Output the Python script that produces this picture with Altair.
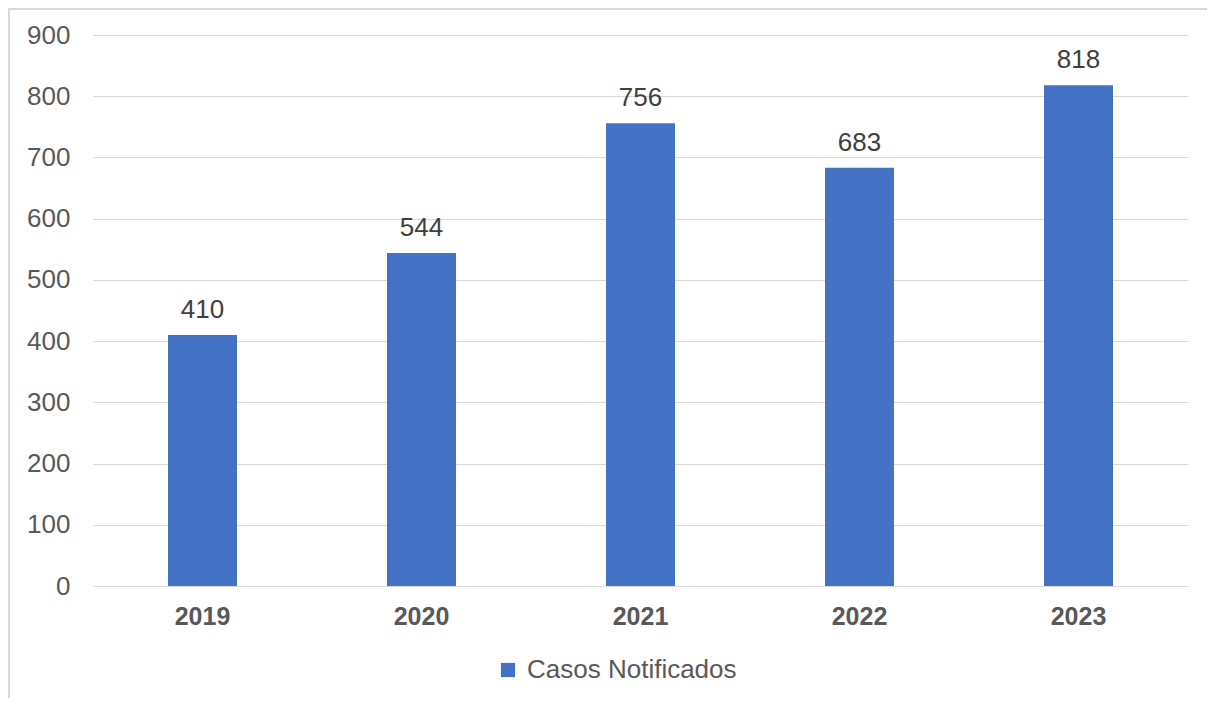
import altair as alt
import pandas as pd

years = ["2019", "2020", "2021", "2022", "2023"]
cases = [410, 544, 756, 683, 818]
series = ["Casos Notificados"] * 5

df = pd.DataFrame({"ano": years, "casos": cases, "serie": series})

FONT = "Liberation Sans"
GREY = "#595959"

base = alt.Chart(df)

bars = base.mark_bar(color="#4472C4").encode(
    x=alt.X("ano:N", sort=years,
            scale=alt.Scale(paddingInner=0.685, paddingOuter=0.3425),
            axis=alt.Axis(title=None, labelAngle=0, labelFontWeight="bold",
                          labelFontSize=25, labelColor=GREY, labelFont=FONT,
                          ticks=False, domain=False, labelPadding=18, grid=False)),
    y=alt.Y("casos:Q", scale=alt.Scale(domain=[0, 900], nice=False),
            axis=alt.Axis(title=None, values=list(range(0, 901, 100)),
                          labelFontSize=26, labelColor=GREY, labelFont=FONT,
                          ticks=False, domain=False, labelPadding=23,
                          gridColor="#d9d9d9", gridWidth=1)),
    color=alt.Color("serie:N",
                    scale=alt.Scale(range=["#4472C4"]),
                    legend=alt.Legend(title=None, orient="none",
                                      legendX=402, legendY=622,
                                      symbolType="square", symbolSize=200,
                                      labelFontSize=26, labelColor=GREY,
                                      labelFont=FONT, symbolStrokeWidth=0,
                                      labelOffset=6, labelLimit=400)),
)

labels = base.mark_text(fontSize=26, font=FONT, color="#404040",
                        baseline="alphabetic", dy=-17).encode(
    x=alt.X("ano:N", sort=years),
    y="casos:Q",
    text="casos:Q",
)

frame = base.mark_rule(color="#d9d9d9", strokeWidth=1.5).encode(
    x=alt.value(-84), x2=alt.value(-84), y=alt.value(-27), y2=alt.value(700)
)
frame_top = base.mark_rule(color="#d9d9d9", strokeWidth=1.5).encode(
    x=alt.value(-84), x2=alt.value(1200), y=alt.value(-26), y2=alt.value(-26)
)

chart = alt.layer(frame, frame_top, bars, labels).properties(
    width=1095, height=551,
    padding={"left": 85, "top": 27, "right": 19, "bottom": 112},
    autosize=alt.AutoSizeParams(type="none"),
).configure(font=FONT).configure_view(strokeWidth=0, stroke="transparent")

chart.save("out.html", embed_options={"renderer": "svg", "actions": False})
